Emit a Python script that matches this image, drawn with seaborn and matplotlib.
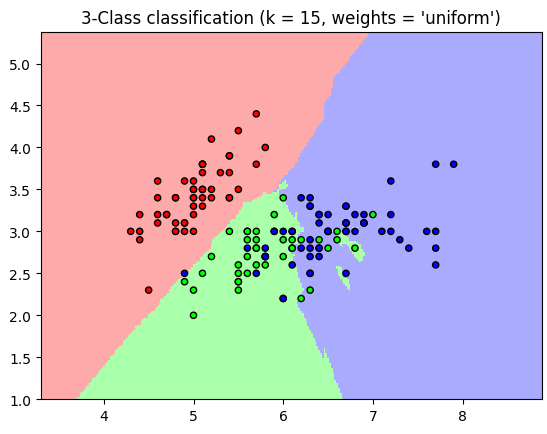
import numpy as np
import pandas as pd
import seaborn as sns
import matplotlib.pyplot as plt
from matplotlib.colors import ListedColormap

# iris: sepal length / sepal width, per class
setosa_len = [5.1,4.9,4.7,4.6,5.0,5.4,4.6,5.0,4.4,4.9,5.4,4.8,4.8,4.3,5.8,5.7,5.4,5.1,5.7,5.1,
              5.4,5.1,4.6,5.1,4.8,5.0,5.0,5.2,5.2,4.7,4.8,5.4,5.2,5.5,4.9,5.0,5.5,4.9,4.4,5.1,
              5.0,4.5,4.4,5.0,5.1,4.8,5.1,4.6,5.3,5.0]
setosa_wid = [3.5,3.0,3.2,3.1,3.6,3.9,3.4,3.4,2.9,3.1,3.7,3.4,3.0,3.0,4.0,4.4,3.9,3.5,3.8,3.8,
              3.4,3.7,3.6,3.3,3.4,3.0,3.4,3.5,3.4,3.2,3.1,3.4,4.1,4.2,3.1,3.2,3.5,3.6,3.0,3.4,
              3.5,2.3,3.2,3.5,3.8,3.0,3.8,3.2,3.7,3.3]
versi_len = [7.0,6.4,6.9,5.5,6.5,5.7,6.3,4.9,6.6,5.2,5.0,5.9,6.0,6.1,5.6,6.7,5.6,5.8,6.2,5.6,
             5.9,6.1,6.3,6.1,6.4,6.6,6.8,6.7,6.0,5.7,5.5,5.5,5.8,6.0,5.4,6.0,6.7,6.3,5.6,5.5,
             5.5,6.1,5.8,5.0,5.6,5.7,5.7,6.2,5.1,5.7]
versi_wid = [3.2,3.2,3.1,2.3,2.8,2.8,3.3,2.4,2.9,2.7,2.0,3.0,2.2,2.9,2.9,3.1,3.0,2.7,2.2,2.5,
             3.2,2.8,2.5,2.8,2.9,3.0,2.8,3.0,2.9,2.6,2.4,2.4,2.7,2.7,3.0,3.4,3.1,2.3,3.0,2.5,
             2.6,3.0,2.6,2.3,2.7,3.0,2.9,2.9,2.5,2.8]
virg_len = [6.3,5.8,7.1,6.3,6.5,7.6,4.9,7.3,6.7,7.2,6.5,6.4,6.8,5.7,5.8,6.4,6.5,7.7,7.7,6.0,
            6.9,5.6,7.7,6.3,6.7,7.2,6.2,6.1,6.4,7.2,7.4,7.9,6.4,6.3,6.1,7.7,6.3,6.4,6.0,6.9,
            6.7,6.9,5.8,6.8,6.7,6.7,6.3,6.5,6.2,5.9]
virg_wid = [3.3,2.7,3.0,2.9,3.0,3.0,2.5,2.9,2.5,3.6,3.2,2.7,3.0,2.5,2.8,3.2,3.0,3.8,2.6,2.2,
            3.2,2.8,2.8,2.7,3.3,3.2,2.8,3.0,2.8,3.0,2.8,3.8,2.8,2.8,2.6,3.0,3.4,3.1,3.0,3.1,
            3.1,3.1,2.7,3.2,3.3,3.0,2.5,3.0,3.4,3.0]

n_neighbors = 15
X = np.column_stack([setosa_len + versi_len + virg_len, setosa_wid + versi_wid + virg_wid])
y = np.repeat([0, 1, 2], 50)
names = ["setosa", "versicolor", "virginica"]

h = 0.02
xx, yy = np.meshgrid(np.arange(X[:, 0].min() - 1, X[:, 0].max() + 1, h),
                     np.arange(X[:, 1].min() - 1, X[:, 1].max() + 1, h))
grid = np.c_[xx.ravel(), yy.ravel()]

# plain k-nearest-neighbours vote
d = ((grid[:, None, :] - X[None, :, :]) ** 2).sum(-1)
idx = np.argsort(d, axis=1, kind="stable")[:, :n_neighbors]
votes = np.stack([(y[idx] == c).sum(1) for c in range(3)], axis=1)
Z = votes.argmax(1).reshape(xx.shape)

cmap_light = ListedColormap(["#FFAAAA", "#AAFFAA", "#AAAAFF"])
cmap_bold = ["#FF0000", "#00FF00", "#0000FF"]

fig, ax = plt.subplots(figsize=(5.47, 4.35), dpi=100)
ax.pcolormesh(xx, yy, Z, cmap=cmap_light, shading="auto")

df = pd.DataFrame({"x": X[:, 0], "y": X[:, 1], "cls": [names[c] for c in y]})
sns.scatterplot(data=df, x="x", y="y", hue="cls", palette=cmap_bold, edgecolor="black",
                linewidth=1, s=20, legend=False, ax=ax)
ax.set_xlim(xx.min(), xx.max())
ax.set_ylim(yy.min(), yy.max())
ax.set_xlabel("")
ax.set_ylabel("")
ax.set_title("3-Class classification (k = %i, weights = '%s')" % (n_neighbors, "uniform"))
fig.subplots_adjust(left=0.075, right=0.99, top=0.925, bottom=0.08)
plt.savefig("out.png")
